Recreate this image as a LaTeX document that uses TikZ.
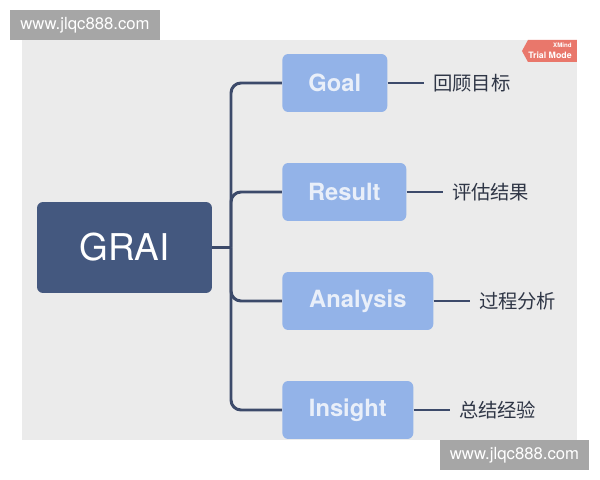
\documentclass[tikz,border=0pt]{standalone}
\usepackage{fontspec}
\setmainfont{TeX Gyre Heros}
\newfontfamily\cjk{Noto Sans CJK SC}
\usepackage{xcolor}
\usetikzlibrary{positioning}

\definecolor{panelgray}{HTML}{EBEBEB}
\definecolor{rootblue}{HTML}{44587F}
\definecolor{topicblue}{HTML}{93B3E8}
\definecolor{topictext}{HTML}{E9EFF9}
\definecolor{linkblue}{HTML}{3C4A6A}
\definecolor{notegray}{HTML}{2F3646}
\definecolor{stampgray}{HTML}{A6A6A6}
\definecolor{trialred}{HTML}{E9776B}

\begin{document}
\begin{tikzpicture}[
    x=0.02cm, y=-0.02cm,
    node distance=0.72cm,
    root/.style={fill=rootblue, rounded corners=0.12cm, minimum width=3.5cm, minimum height=1.82cm, text=white, font=\fontsize{21}{25}\selectfont},
    topic/.style={fill=topicblue, rounded corners=0.12cm, minimum height=1.16cm, anchor=west, text=topictext, font=\bfseries\fontsize{13.5}{16}\selectfont},
    note/.style={inner xsep=0.18cm, text=notegray, font=\cjk\fontsize{11}{13}\selectfont},
    link/.style={draw=linkblue, line width=1.7pt},
    stamp/.style={fill=stampgray, text=white, minimum width=3cm, minimum height=0.6cm, font=\fontsize{9.5}{11}\selectfont}
]

% Canvas
\fill[white] (0,0) rectangle (600,480);
\useasboundingbox (0,0) rectangle (600,480);
\fill[panelgray] (22,40) rectangle (577,440);

% Root
\node[root] (grai) at (124.5,247.5) {GRAI};
\coordinate (trunk) at (231,247.5);

% Topics
\node[topic, minimum width=2.1cm] (goal) at (282,83) {Goal};
\node[topic, minimum width=2.48cm] (result) at (282,192) {Result};
\node[topic, minimum width=3.02cm] (analysis) at (282,301) {Analysis};
\node[topic, minimum width=2.62cm] (insight) at (282,410) {Insight};

% Notes
\node[note, right=of goal] (goalnote) {回顾目标};
\node[note, right=of result] (resultnote) {评估结果};
\node[note, right=of analysis] (analysisnote) {过程分析};
\node[note, right=of insight] (insightnote) {总结经验};

% Connections
\draw[link] (grai.east) -- (trunk);
\foreach \t in {goal, result, analysis, insight}{
    \draw[link, rounded corners=0.2cm] (trunk) |- (\t.west);
    \draw[link] (\t) -- (\t note);
}

% Trial tag
\fill[trialred] (577,40) -- (528,40) -- (522,51) -- (528,62) -- (577,62) -- cycle;
\node[text=white, align=right, inner sep=0pt, anchor=east, font=\bfseries\fontsize{5}{6}\selectfont] (trial) at (572,51) {{\fontsize{3.5}{4}\selectfont XMind}\\Trial Mode};

% Watermarks
\node[stamp] (stamptop) at (85,25) {www.jlqc888.com};
\node[stamp] (stampbottom) at (514.5,455) {www.jlqc888.com};

\end{tikzpicture}
\end{document}
